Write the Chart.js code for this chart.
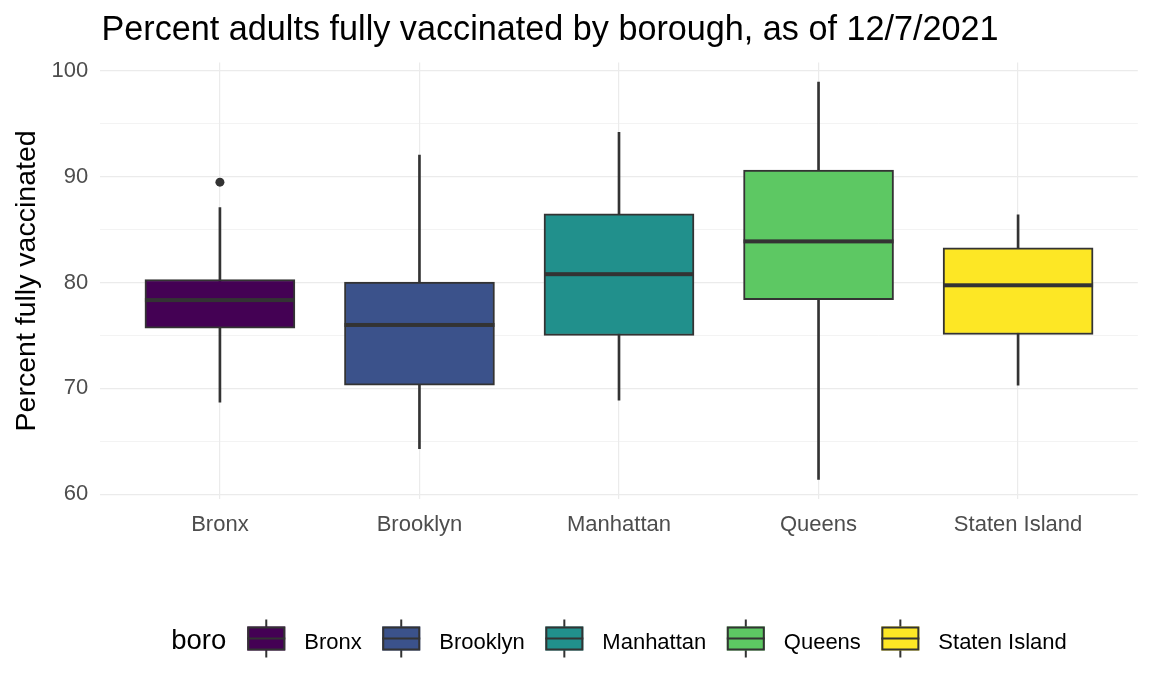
<!DOCTYPE html>
<html><head><meta charset="utf-8">
<script src="https://cdn.jsdelivr.net/npm/chart.js@4.4.1/dist/chart.umd.min.js"></script>
<style>html,body{margin:0;padding:0;background:#fff;}#wrap{width:1152px;height:691px;}</style>
</head><body><div id="wrap"><canvas id="c" width="1152" height="691"></canvas></div>
<script>
const categories = ['Bronx', 'Brooklyn', 'Manhattan', 'Queens', 'Staten Island'];
const whiskerLow = [68.7, 64.3, 68.9, 61.4, 70.3];
const q1 = [75.7, 70.3, 75.0, 78.4, 75.1];
const median = [78.35, 76.0, 80.8, 83.9, 79.75];
const q3 = [80.3, 80.05, 86.5, 90.65, 83.3];
const whiskerHigh = [87.1, 92.05, 94.2, 98.95, 86.4];
const outliers = [89.5, null, null, null, null];
const colors = ['#440154', '#3B528B', '#21908C', '#5DC863', '#FDE725'];
const yTicks = [60, 65, 70, 75, 80, 85, 90, 95, 100];
const titleText = 'Percent adults fully vaccinated by borough, as of 12/7/2021';
const yTitle = 'Percent fully vaccinated';
const legendTitle = 'boro';

const FONT = 'Liberation Sans, Arial, sans-serif';
const INK = '#333333';

const medianPlugin = {
  id: 'medianLines',
  afterDatasetDraw(chart, args) {
    if (args.index !== 1) return;
    const ctx = chart.ctx, ys = chart.scales.y;
    args.meta.data.forEach((el, i) => {
      const y = ys.getPixelForValue(median[i]);
      ctx.save();
      ctx.fillStyle = INK;
      ctx.fillRect(el.x - el.width / 2, y - 2, el.width, 4);
      ctx.restore();
    });
  }
};

const decorPlugin = {
  id: 'decor',
  afterDraw(chart) {
    const ctx = chart.ctx, ca = chart.chartArea;
    ctx.save();
    // title
    ctx.fillStyle = '#000';
    ctx.font = '34.2px ' + FONT;
    ctx.textBaseline = 'alphabetic';
    ctx.textAlign = 'left';
    ctx.fillText(titleText, 101.5, 39.5);
    // legend
    const titleFont = '27.5px ' + FONT, itemFont = '22px ' + FONT;
    const keyW = 38, keyH = 24;
    const gTitle = 21, gKey = 19, gItem = 20.5;
    ctx.font = titleFont;
    let total = ctx.measureText(legendTitle).width + gTitle;
    ctx.font = itemFont;
    const widths = categories.map(c => ctx.measureText(c).width);
    widths.forEach((w, i) => { total += keyW + gKey + w + (i < widths.length - 1 ? gItem : 0); });
    let x = (ca.left + ca.right) / 2 - total / 2;
    const base = 649, keyTop = 626.5;
    ctx.font = titleFont;
    ctx.fillStyle = '#000';
    ctx.fillText(legendTitle, x, base);
    x += ctx.measureText(legendTitle).width + gTitle;
    ctx.font = itemFont;
    categories.forEach((c, i) => {
      const cx = x + keyW / 2;
      ctx.fillStyle = INK;
      ctx.fillRect(cx - 1, keyTop - 7, 2, keyH + 14);
      ctx.fillStyle = colors[i];
      ctx.fillRect(x, keyTop, keyW, keyH);
      ctx.strokeStyle = INK;
      ctx.lineWidth = 2;
      ctx.strokeRect(x + 1, keyTop + 1, keyW - 2, keyH - 2);
      ctx.fillStyle = INK;
      ctx.fillRect(x, keyTop + keyH / 2 - 1, keyW, 2);
      x += keyW + gKey;
      ctx.fillStyle = '#000';
      ctx.fillText(c, x, base);
      x += widths[i] + gItem;
    });
    ctx.restore();
  }
};

new Chart(document.getElementById('c'), {
  type: 'bar',
  data: {
    datasets: [
      {
        label: 'whiskers',
        data: categories.map((c, i) => ({ x: i + 1, y: [whiskerLow[i], whiskerHigh[i]] })),
        backgroundColor: INK,
        borderWidth: 0,
        barThickness: 2,
        grouped: false,
        order: 3
      },
      {
        label: 'boxes',
        data: categories.map((c, i) => ({ x: i + 1, y: [q1[i], q3[i]] })),
        backgroundColor: colors,
        borderColor: INK,
        borderWidth: 2,
        borderSkipped: false,
        barThickness: 150,
        grouped: false,
        order: 2
      },
      {
        type: 'line',
        label: 'outliers',
        data: categories.map((c, i) => ({ x: i + 1, y: outliers[i] })).filter(p => p.y !== null),
        showLine: false,
        pointRadius: 4.5,
        pointBackgroundColor: INK,
        pointBorderWidth: 0,
        order: 1
      }
    ]
  },
  options: {
    responsive: false,
    animation: false,
    devicePixelRatio: 1,
    layout: { padding: { top: 62.5, right: 14.2, bottom: 0, left: 0 } },
    plugins: { legend: { display: false }, tooltip: { enabled: false }, title: { display: false } },
    scales: {
      x: {
        type: 'linear',
        min: 0.4, max: 5.6,
        offset: false,
        afterBuildTicks: s => { s.ticks = categories.map((c, i) => ({ value: i + 1 })); },
        afterFit: s => { s.height = 691 - 499.3; },
        ticks: {
          callback: v => categories[Math.round(v) - 1],
          font: { size: 22, family: FONT },
          color: '#4D4D4D',
          padding: 12,
          autoSkip: false,
          maxRotation: 0
        },
        grid: { color: '#EBEBEB', lineWidth: 1.2, drawTicks: false, offset: false },
        border: { display: false }
      },
      y: {
        type: 'linear',
        min: 59.52, max: 100.81,
        beginAtZero: false,
        afterBuildTicks: s => { s.ticks = yTicks.map(v => ({ value: v })); },
        afterFit: s => { s.width = 100.2; },
        ticks: {
          callback: v => (v % 10 === 0 ? String(v) : ''),
          font: { size: 22, family: FONT },
          color: '#4D4D4D',
          padding: 12
        },
        grid: {
          color: '#EBEBEB',
          lineWidth: c => (c.tick && c.tick.value % 10 === 0 ? 1.2 : 0.6),
          drawTicks: false
        },
        border: { display: false },
        title: {
          display: true,
          text: yTitle,
          color: '#000',
          font: { size: 28.5, family: FONT },
          padding: { top: 10.5, bottom: 0 }
        }
      }
    }
  },
  plugins: [medianPlugin, decorPlugin]
});
</script>
</body></html>
